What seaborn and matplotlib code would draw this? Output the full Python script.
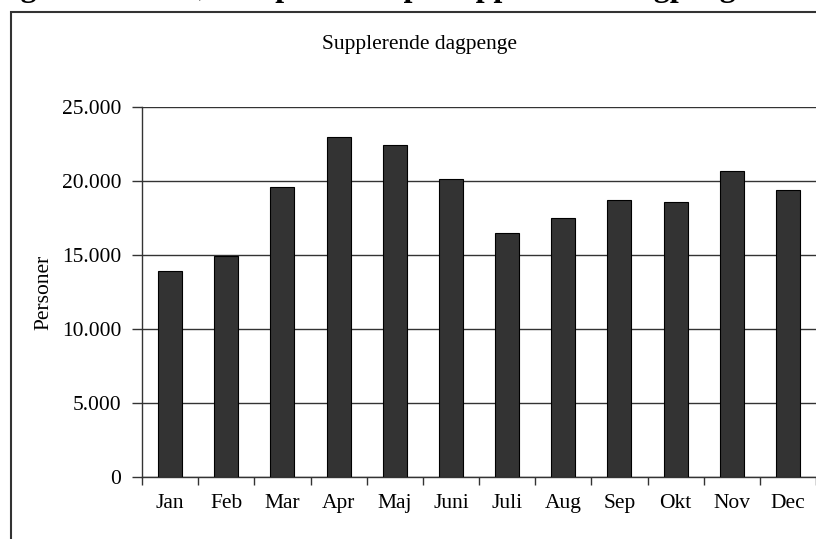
import numpy as np
import pandas as pd
import matplotlib
matplotlib.use("Agg")
import matplotlib.pyplot as plt
import matplotlib.patches as patches
from matplotlib.ticker import FuncFormatter, MultipleLocator
import seaborn as sns

months = ["Jan", "Feb", "Mar", "Apr", "Maj", "Juni", "Juli", "Aug", "Sep", "Okt", "Nov", "Dec"]
persons = [13900, 14950, 19600, 23000, 22450, 20150, 16500, 17500, 18700, 18600, 20650, 19400]
chart_title = "Supplerende dagpenge"
y_label = "Personer"
heading = "Figur 2.1 Antal, i alt personer på supplerende dagpenge fordelt på måned, 2003)"

sns.set_theme(style="white")
plt.rcParams["font.family"] = ["Liberation Serif", "DejaVu Serif"]

df = pd.DataFrame({"month": months, "persons": persons})

fig = plt.figure(figsize=(8.16, 5.39), dpi=100)
ax = fig.add_axes([142/816, 1-477/539, 1-142/816, (477-107)/539])

sns.barplot(data=df, x="month", y="persons", order=months, color="#333333",
            saturation=1, width=0.43, edgecolor="black", linewidth=0.8, ax=ax, zorder=3)

ax.set_ylim(0, 25000)
ax.set_xlim(-0.5, 11.5)
ax.yaxis.set_major_locator(MultipleLocator(5000))
ax.yaxis.set_major_formatter(FuncFormatter(lambda v, p: f"{v:,.0f}".replace(",", ".")))
ax.grid(axis="y", color="#333333", linewidth=1.0, zorder=0)
ax.set_axisbelow(True)

ax.set_xticks(np.arange(-0.5, 12, 1))
ax.set_xticklabels([""] * 13)
ax.set_xticks(np.arange(12), minor=True)
ax.set_xticklabels(months, minor=True)
ax.tick_params(axis="x", which="major", direction="out", length=6, width=1, color="#333333", bottom=True)
ax.tick_params(axis="x", which="minor", length=0, pad=12, labelsize=15.5, labelcolor="black")
ax.tick_params(axis="y", direction="out", length=7, width=1, color="#333333", left=True, pad=8,
               labelsize=15.5, labelcolor="black")

ax.set_xlabel("")
ax.set_ylabel(y_label, fontsize=15.5, color="black")
ax.yaxis.set_label_coords(-0.132, 0.5)

for s in ["top", "right"]:
    ax.spines[s].set_visible(False)
for s in ["left", "bottom"]:
    ax.spines[s].set_color("#333333")
    ax.spines[s].set_linewidth(1.0)

fig.text(420/816, 1-44/539, chart_title, ha="center", va="center", fontsize=15.5, color="black")

frame = patches.Rectangle((11/816, -0.2), 2, 0.2 + (1-12/539),
                          transform=fig.transFigure, fill=False, edgecolor="#333333", linewidth=1.5)
fig.add_artist(frame)

fig.text(-8/816, 1.0 + 4/539, heading, ha="left", va="baseline", fontsize=23,
         fontweight="bold", color="black")

fig.savefig("out.png", dpi=100)
